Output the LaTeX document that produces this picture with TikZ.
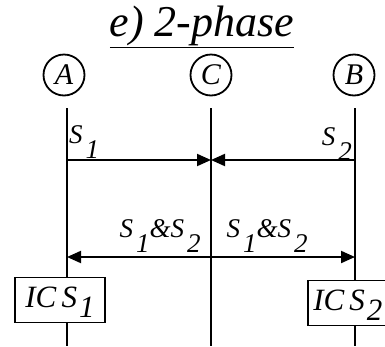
\documentclass[tikz,border=0pt]{standalone}
\usepackage{fontspec}
\setmainfont{Liberation Serif}
\usetikzlibrary{arrows.meta,positioning}
\newcommand{\Lbl}{\fontsize{27}{30}\selectfont\itshape}
\newcommand{\Sx}[1]{\kern3pt\raisebox{-15pt}{#1}}

\begin{document}
\begin{tikzpicture}[x=1pt,y=-1pt, font=\Lbl,
    site/.style={draw,circle,line width=1.8pt,minimum size=41pt,inner sep=0pt},
    axis/.style={line width=2pt},
    shot/.style={line width=2pt,-{Triangle[length=14pt,width=12pt]}},
    icbox/.style={draw,fill=white,line width=1.8pt,minimum width=90pt,minimum height=45pt,inner sep=2pt,
      text height=22pt,text depth=8pt,font=\fontsize{31}{34}\selectfont\itshape}]
  \clip (0,0) rectangle (385,346);
  \node[anchor=base,inner sep=0pt,font=\fontsize{44}{46}\selectfont\itshape] (title) at (202,36) {\underline{e) 2-phase}};
  % sites and their time lines
  \foreach \n/\x in {A/64,C/211,B/354}{
    \node[site,font=\fontsize{30}{32}\selectfont\itshape] (site\n) at (\x,75) {\n};}
  \foreach \n/\x in {A/67,C/211,B/355}{
    \coordinate (top\n) at (\x,108); \coordinate (bot\n) at (\x,346);
    \draw[axis] (top\n) -- (bot\n);
    \coordinate (s\n) at (\x,160); \coordinate (m\n) at (\x,257);}
  % phase 1
  \draw[shot] (sA) -- (sC);
  \draw[shot] (sB) -- (sC);
  \node[anchor=base west,inner sep=0pt] (labA) at (69,143) {S\Sx{1}};
  \node[anchor=base east,inner sep=0pt] (labB) at (352,145) {S\Sx{2}};
  % phase 2
  \draw[shot] (mC) -- (mA);
  \draw[shot] (mC) -- (mB);
  \node[anchor=base,inner sep=0pt] (labAC) at (160,237) {S\Sx{1}\&S\Sx{2}};
  \node[anchor=base,inner sep=0pt] (labCB) at (267,237) {S\Sx{1}\&S\Sx{2}};
  \node[icbox] (icsA) at (60,300) {IC\,S\kern2pt\raisebox{-10pt}{1}};
  \node[icbox,anchor=west,minimum width=80pt] (icsB) at (307,303) {IC\,S\kern2pt\raisebox{-10pt}{2}};
\end{tikzpicture}
\end{document}
